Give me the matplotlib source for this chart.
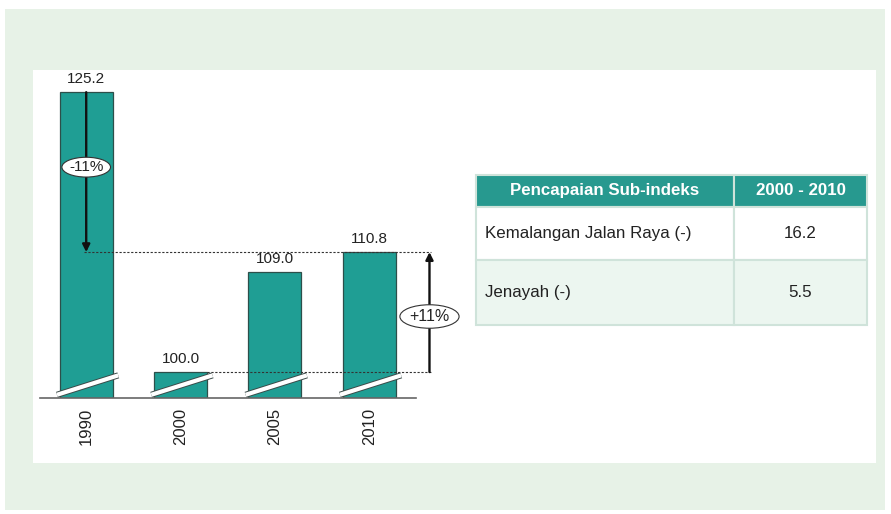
import matplotlib.pyplot as plt
from matplotlib.patches import Rectangle
from matplotlib.table import Table

plt.rcParams['font.family'] = ['Liberation Sans', 'DejaVu Sans']

years = ['1990', '2000', '2005', '2010']
index_values = [125.2, 100.0, 109.0, 110.8]
change_down = '-11%'
change_up = '+11%'

table_header = ['Pencapaian Sub-indeks', '2000 - 2010']
table_rows = ['Kemalangan Jalan Raya (-)', 'Jenayah (-)']
table_values = ['16.2', '5.5']

teal = '#1f9e94'
header_teal = '#27998f'
panel_green = '#e7f2e7'
grid_col = '#cfe3da'

W, H = 891, 514
fig = plt.figure(figsize=(W / 100, H / 100), dpi=100)
fig.patch.set_facecolor('white')

# background panels (pixel coords)
def px_rect(x0, y0, x1, y1, **kw):
    fig.patches.append(Rectangle((x0 / W, 1 - y1 / H), (x1 - x0) / W, (y1 - y0) / H,
                                 transform=fig.transFigure, zorder=-10, **kw))

px_rect(5, 9, 885, 510, fc=panel_green, ec='none')
px_rect(33, 70, 876, 463, fc='white', ec='none')

# bar chart axes: x -0.49..3.9 over px 40..454, y 97.66..127.2 over px 398..70
ymin, ymax = 97.66, 127.2
x_left, x_right = -0.49, 3.9
ax = fig.add_axes([40 / W, (H - 398) / H, 414 / W, 328 / H])
ax.set_xlim(x_left, x_right)
ax.set_ylim(ymin, ymax)
ax.patch.set_alpha(0)
for s in ax.spines.values():
    s.set_visible(False)
ax.set_yticks([])

xs = list(range(len(years)))
ax.bar(xs, [v - ymin for v in index_values], bottom=ymin, width=0.56,
       color=teal, edgecolor='#2d4f4a', linewidth=0.9, zorder=2)

for x, v in zip(xs, index_values):
    ax.text(x, v + 0.55, f'{v:.1f}', ha='center', va='bottom', fontsize=11,
            color='#222222', zorder=5)

# axis break marks
for x in xs:
    bx = [x - 0.31, x + 0.34]
    by = [97.95, 99.7]
    ax.plot(bx, by, color='#3a4a48', lw=4.4, solid_capstyle='butt', zorder=3)
    ax.plot(bx, by, color='white', lw=3.0, solid_capstyle='butt', zorder=4)

# baseline
ax.plot([x_left, 3.5], [ymin, ymin], color='#666666', lw=1.2, zorder=3, clip_on=False)

ax.set_xticks(xs)
ax.set_xticklabels(years, rotation=90, fontsize=12, color='#222222')
ax.tick_params(axis='x', length=0, pad=7)

# reference lines and arrows
x_arrow = 3.64
ax.plot([-0.02, x_arrow + 0.02], [index_values[3]] * 2, color='#333333', lw=0.8,
        ls=(0, (2, 1.5)), zorder=5)
ax.plot([1.28, x_arrow + 0.02], [index_values[1]] * 2, color='#333333', lw=0.8,
        ls=(0, (2, 1.5)), zorder=5)

ax.annotate('', xy=(0, index_values[3]), xytext=(0, index_values[0]),
            arrowprops=dict(arrowstyle='-|>', color='#111111', lw=1.7,
                            mutation_scale=11, shrinkA=0, shrinkB=0), zorder=6)
ax.annotate('', xy=(x_arrow, index_values[3]), xytext=(x_arrow, index_values[1]),
            arrowprops=dict(arrowstyle='-|>', color='#111111', lw=1.7,
                            mutation_scale=11, shrinkA=0, shrinkB=0), zorder=6)

ax.text(0, 118.45, change_down, ha='center', va='center', fontsize=11, color='#222222',
        bbox=dict(boxstyle='ellipse,pad=0.0', fc='white', ec='#333333', lw=0.8), zorder=7)
ax.text(x_arrow, 105.0, change_up, ha='center', va='center', fontsize=11.5, color='#222222',
        bbox=dict(boxstyle='ellipse,pad=0.05', fc='white', ec='#333333', lw=0.8), zorder=7)

# table
tax = fig.add_axes([476 / W, (H - 325) / H, 391 / W, 150 / H])
tax.axis('off')
tb = Table(tax, bbox=[0, 0, 1, 1])
col_w = [258, 133]
row_h = [32, 53, 65]
for c, txt in enumerate(table_header):
    cell = tb.add_cell(0, c, col_w[c], row_h[0], text=txt, loc='center',
                       facecolor=header_teal, edgecolor=grid_col)
    cell.get_text().set_color('white')
    cell.get_text().set_fontweight('bold')
    cell.get_text().set_fontsize(12.2)
    cell.set_linewidth(1.5)
for r, (name, val) in enumerate(zip(table_rows, table_values), start=1):
    bg = 'white' if r == 1 else '#ecf6f0'
    c0 = tb.add_cell(r, 0, col_w[0], row_h[r], text=name, loc='left',
                     facecolor=bg, edgecolor=grid_col)
    c0.PAD = 0.035
    c1 = tb.add_cell(r, 1, col_w[1], row_h[r], text=val, loc='center',
                     facecolor=bg, edgecolor=grid_col)
    for c in (c0, c1):
        c.get_text().set_fontsize(12.2)
        c.get_text().set_color('#222222')
        c.set_linewidth(1.5)
tb.auto_set_font_size(False)
tax.add_table(tb)

fig.savefig('out.png', dpi=100, facecolor=fig.get_facecolor())
